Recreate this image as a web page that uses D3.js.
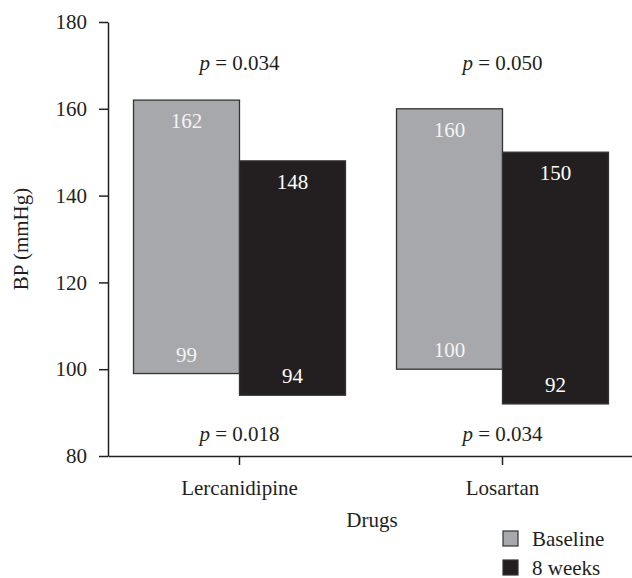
<!DOCTYPE html>
<html>
<head>
<meta charset="utf-8">
<script src="https://cdn.jsdelivr.net/npm/d3@7"></script>
<style>
  html, body { margin: 0; padding: 0; background: #fff; }
  svg text { font-family: "Liberation Serif", serif; }
</style>
</head>
<body>
<svg id="chart" width="632" height="578"></svg>
<script>
const categories = ["Lercanidipine", "Losartan"];
const series = ["Baseline", "8 weeks"];
const systolic = { "Baseline": [162, 160], "8 weeks": [148, 150] };
const diastolic = { "Baseline": [99, 100], "8 weeks": [94, 92] };
const pTop = ["0.034", "0.050"];
const pBottom = ["0.018", "0.034"];
const yTicks = [80, 100, 120, 140, 160, 180];
const colors = { "Baseline": "#a7a8ab", "8 weeks": "#231f20" };
const labelColors = { "Baseline": "#f4f4f4", "8 weeks": "#ffffff" };

const FONT = "'Liberation Serif', serif";
const svg = d3.select("#chart").attr("font-family", FONT);
const FS = 21;
const ink = "#231f20";

const y = d3.scaleLinear().domain([80, 180]).range([456, 22]);
const x = d3.scaleBand().domain(categories).range([108, 634]).paddingInner(0.194).paddingOuter(0.097);
const xs = d3.scaleBand().domain(series).range([0, x.bandwidth()]);

const bars = [];
categories.forEach((c, i) => {
  series.forEach(s => {
    bars.push({ cat: c, ser: s, hi: systolic[s][i], lo: diastolic[s][i] });
  });
});

// bars
svg.append("g").selectAll("rect").data(bars).join("rect")
  .attr("x", d => x(d.cat) + xs(d.ser))
  .attr("width", xs.bandwidth())
  .attr("y", d => y(d.hi))
  .attr("height", d => y(d.lo) - y(d.hi))
  .attr("fill", d => colors[d.ser])
  .attr("stroke", "#333")
  .attr("stroke-width", 1.3);

// value labels
const lab = svg.append("g").attr("font-size", FS).attr("text-anchor", "middle");
lab.selectAll("text.hi").data(bars).join("text").attr("class", "hi")
  .attr("x", d => x(d.cat) + xs(d.ser) + xs.bandwidth() / 2)
  .attr("y", d => y(d.hi) + 28)
  .attr("fill", d => labelColors[d.ser])
  .text(d => d.hi);
lab.selectAll("text.lo").data(bars).join("text").attr("class", "lo")
  .attr("x", d => x(d.cat) + xs(d.ser) + xs.bandwidth() / 2)
  .attr("y", d => y(d.lo) - 12)
  .attr("fill", d => labelColors[d.ser])
  .text(d => d.lo);

// p values
function pText(val, yy, cat) {
  const t = svg.append("text")
    .attr("x", x(cat) + x.bandwidth() / 2)
    .attr("y", yy)
    .attr("text-anchor", "middle")
    .attr("font-size", FS)
    .attr("fill", ink);
  t.append("tspan").attr("font-style", "italic").text("p");
  t.append("tspan").text(" = " + val);
}
categories.forEach((c, i) => {
  pText(pTop[i], 70, c);
  pText(pBottom[i], 441, c);
});

// axes
const yAxis = svg.append("g").attr("transform", "translate(108,0)")
  .call(d3.axisLeft(y).tickValues(yTicks).tickSize(9).tickSizeOuter(0).tickPadding(12));
const xAxis = svg.append("g").attr("transform", "translate(0,456)")
  .call(d3.axisBottom(x).tickSize(9).tickSizeOuter(0).tickPadding(15));
[yAxis, xAxis].forEach(g => {
  g.attr("font-family", FONT).attr("font-size", FS);
  g.selectAll("path, line").attr("stroke", ink).attr("stroke-width", 1.5);
  g.selectAll("text").attr("fill", ink);
});

// axis titles
svg.append("text")
  .attr("transform", "translate(28,239) rotate(-90)")
  .attr("text-anchor", "middle")
  .attr("font-size", FS)
  .attr("fill", ink)
  .text("BP (mmHg)");
svg.append("text")
  .attr("x", 372)
  .attr("y", 527)
  .attr("text-anchor", "middle")
  .attr("font-size", FS)
  .attr("fill", ink)
  .text("Drugs");

// legend
const leg = svg.append("g").selectAll("g").data(series).join("g")
  .attr("transform", (d, i) => `translate(503,${531 + i * 29})`);
leg.append("rect").attr("width", 15).attr("height", 15)
  .attr("fill", d => colors[d]).attr("stroke", "#333").attr("stroke-width", 1.2);
leg.append("text").attr("x", 29).attr("y", 14.5)
  .attr("font-size", FS).attr("fill", ink).text(d => d);
</script>
</body>
</html>
